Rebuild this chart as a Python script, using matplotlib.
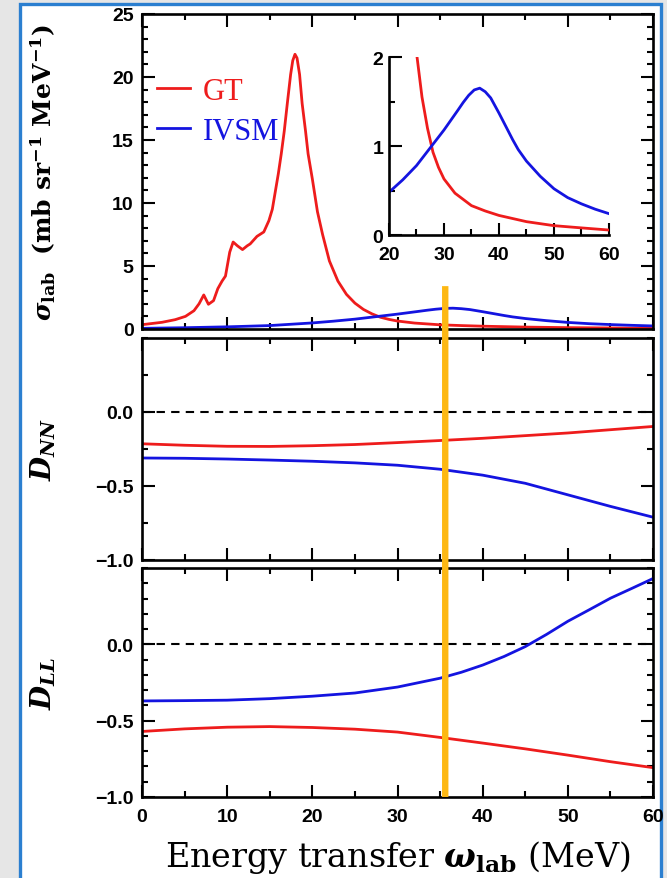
import matplotlib
matplotlib.use("Agg")
import matplotlib.pyplot as plt
from matplotlib.patches import Rectangle, ConnectionPatch
from matplotlib.ticker import MultipleLocator

# GT cross section (mb sr^-1 MeV^-1) vs energy transfer (MeV)
gt_x = [0, 2.35, 3.9, 5.1, 6.1, 6.7, 7.25, 7.8, 8.4, 8.9,
        9.4, 9.8, 10.3, 10.7, 11.2, 11.8, 12.35, 12.7, 13.5, 14.3,
        14.9, 15.3, 15.7, 16.0, 16.35, 16.7, 17.06, 17.45, 17.7, 17.96,
        18.2, 18.5, 18.8, 19.2, 19.5, 20.0, 20.6, 21.2, 22.0, 23.0,
        24, 25, 26, 27, 28, 29, 30, 32, 35, 37.5,
        40, 45, 50, 55, 60]
gt_y = [0.34, 0.53, 0.74, 1.0, 1.45, 2.0, 2.7, 1.96, 2.25, 3.2,
        3.8, 4.2, 6.1, 6.9, 6.6, 6.3, 6.6, 6.75, 7.35, 7.7,
        8.6, 9.5, 11.1, 12.3, 13.9, 15.7, 17.9, 20.2, 21.3, 21.8,
        21.5, 20.2, 17.9, 15.7, 13.9, 11.9, 9.3, 7.5, 5.4, 3.8,
        2.75, 2.05, 1.55, 1.2, 0.93, 0.76, 0.63, 0.47, 0.33, 0.27,
        0.22, 0.15, 0.105, 0.08, 0.056]

# IVSM cross section
ivsm_x = [0, 5, 10, 15, 20, 22.5, 25, 27.5, 30, 32.5, 33.5, 34.5, 35.5, 36.5,
          37.5, 38.5, 40, 41, 42.5, 43.5, 45, 47.5, 50, 52.5, 55, 57.5, 60]
ivsm_y = [0.05, 0.1, 0.17, 0.27, 0.48, 0.62, 0.78, 0.98, 1.18, 1.40, 1.49, 1.57, 1.63, 1.65,
          1.61, 1.54, 1.37, 1.25, 1.07, 0.96, 0.83, 0.66, 0.52, 0.42, 0.35, 0.29, 0.24]

# spin transfer coefficients
d_x = [0, 5, 10, 15, 20, 25, 30, 35, 40, 45, 50, 55, 60]
dnn_gt = [-0.215, -0.225, -0.232, -0.233, -0.228, -0.22, -0.207, -0.193, -0.178, -0.160, -0.142, -0.120, -0.098]
dnn_ivsm = [-0.311, -0.313, -0.318, -0.325, -0.333, -0.344, -0.36, -0.387, -0.427, -0.482, -0.56, -0.638, -0.711]
dll_gt = [-0.571, -0.554, -0.543, -0.539, -0.545, -0.556, -0.575, -0.61, -0.647, -0.685, -0.726, -0.769, -0.808]
dll_x = [0, 5, 10, 15, 20, 25, 30, 35, 37.5, 40, 42.5, 45, 47.5, 50, 52.5, 55, 57.5, 60]
dll_ivsm = [-0.371, -0.369, -0.366, -0.356, -0.34, -0.319, -0.28, -0.222, -0.183, -0.136,
            -0.08, -0.015, 0.065, 0.151, 0.226, 0.302, 0.366, 0.431]

orange_x = 35.6
orange_top = 3.4

RED = "#ee1c1c"
BLUE = "#1414e0"
ORANGE = "#fdb813"

plt.rcParams["mathtext.fontset"] = "custom"
plt.rcParams["mathtext.rm"] = "DejaVu Serif:bold"
plt.rcParams["mathtext.bf"] = "DejaVu Serif:bold"
plt.rcParams["mathtext.it"] = "DejaVu Serif:italic:bold"

fig = plt.figure(figsize=(6.67, 8.79), dpi=100, facecolor="#e6e6e6")
# white card with blue frame behind the panels
fig.add_artist(Rectangle((20/667, -0.02), 641/667, 1.02 - 5/879,
                         transform=fig.transFigure, facecolor="white",
                         edgecolor="#2b7fd0", lw=2.4, zorder=-1))

W = 0.7662
ax1 = fig.add_axes([0.2129, 0.6246, W, 0.3584])
ax2 = fig.add_axes([0.2129, 0.3618, W, 0.2526])
ax3 = fig.add_axes([0.2129, 0.0922, W, 0.2605])
ins = fig.add_axes([0.5832, 0.7315, 0.3298, 0.2025])

tickfont = dict(family="Liberation Sans", weight="bold", size=14)
LW = 2.0

for ax in (ax1, ax2, ax3):
    for s in ax.spines.values():
        s.set_linewidth(1.9)
    ax.set_xlim(0, 60)
    ax.xaxis.set_major_locator(MultipleLocator(10))
    ax.xaxis.set_minor_locator(MultipleLocator(5))
    ax.tick_params(which="both", direction="in", top=True, right=True, width=1.5)
    ax.tick_params(which="major", length=9)
    ax.tick_params(which="minor", length=4.5)
    ax.tick_params(axis="y", pad=6)
    ax.tick_params(axis="x", pad=8)
    ax.yaxis.set_label_coords(-0.165, 0.5)

ax1.plot(gt_x, gt_y, color=RED, lw=LW, label="GT")
ax1.plot(ivsm_x, ivsm_y, color=BLUE, lw=LW, label="IVSM")
ax1.set_ylim(0, 25)
ax1.set_yticks([0, 5, 10, 15, 20, 25])
ax1.yaxis.set_minor_locator(MultipleLocator(1))
ax1.tick_params(labelbottom=False)
ax1.set_ylabel(r"$\sigma_{\mathbf{lab}}$  (mb sr$^{-1}$ MeV$^{-1}$)",
               family="DejaVu Serif", weight="bold", fontsize=18)
ax1.legend(loc="upper left", bbox_to_anchor=(0.029, 0.80), frameon=False,
           borderpad=0, borderaxespad=0, handlelength=1.1, handletextpad=0.4,
           labelspacing=0.35, labelcolor="linecolor",
           prop=dict(family="Liberation Serif", size=22))

ax2.axhline(0, color="black", lw=1.5, ls=(0, (4, 3)))
ax2.plot(d_x, dnn_gt, color=RED, lw=LW)
ax2.plot(d_x, dnn_ivsm, color=BLUE, lw=LW)
ax2.set_ylim(-1.0, 0.5)
ax2.set_yticks([-1.0, -0.5, 0.0])
ax2.yaxis.set_minor_locator(MultipleLocator(0.25))
ax2.tick_params(labelbottom=False)
ax2.set_ylabel(r"$D_{NN}$", fontsize=20)

ax3.axhline(0, color="black", lw=1.5, ls=(0, (4, 3)))
ax3.plot(d_x, dll_gt, color=RED, lw=LW)
ax3.plot(dll_x, dll_ivsm, color=BLUE, lw=LW)
ax3.set_ylim(-1.0, 0.5)
ax3.set_yticks([-1.0, -0.5, 0.0])
ax3.yaxis.set_minor_locator(MultipleLocator(0.1))
ax3.set_ylabel(r"$D_{LL}$", fontsize=20)
ax3.set_xlabel(r"Energy transfer $\omega_{\mathbf{lab}}$ (MeV)",
               family="DejaVu Serif", fontsize=24)
ax3.xaxis.set_label_coords(0.5, -0.18)

for ax in (ax1, ax2, ax3):
    for lab in ax.get_xticklabels() + ax.get_yticklabels():
        lab.set(**tickfont)

# inset
ins.plot(gt_x, gt_y, color=RED, lw=LW)
ins.plot(ivsm_x, ivsm_y, color=BLUE, lw=LW)
ins.set_xlim(20, 60)
ins.set_ylim(0, 2)
ins.spines["top"].set_visible(False)
ins.spines["right"].set_visible(False)
for s in ("left", "bottom"):
    ins.spines[s].set_linewidth(1.9)
ins.set_xticks([20, 30, 40, 50, 60])
ins.set_yticks([0, 1, 2])
ins.xaxis.set_minor_locator(MultipleLocator(5))
ins.yaxis.set_minor_locator(MultipleLocator(0.5))
ins.tick_params(which="both", direction="in", width=1.5)
ins.tick_params(which="major", length=9)
ins.tick_params(which="minor", length=4.5)
ins.tick_params(axis="y", pad=4)
ins.tick_params(axis="x", pad=8)
for lab in ins.get_xticklabels() + ins.get_yticklabels():
    lab.set(**tickfont)

# orange marker line running through all panels
con = ConnectionPatch(xyA=(orange_x, orange_top), coordsA=ax1.transData,
                      xyB=(orange_x, -1.0), coordsB=ax3.transData,
                      color=ORANGE, lw=4.6, capstyle="butt", zorder=10)
fig.add_artist(con)

fig.savefig("out.png", dpi=100, facecolor=fig.get_facecolor())
